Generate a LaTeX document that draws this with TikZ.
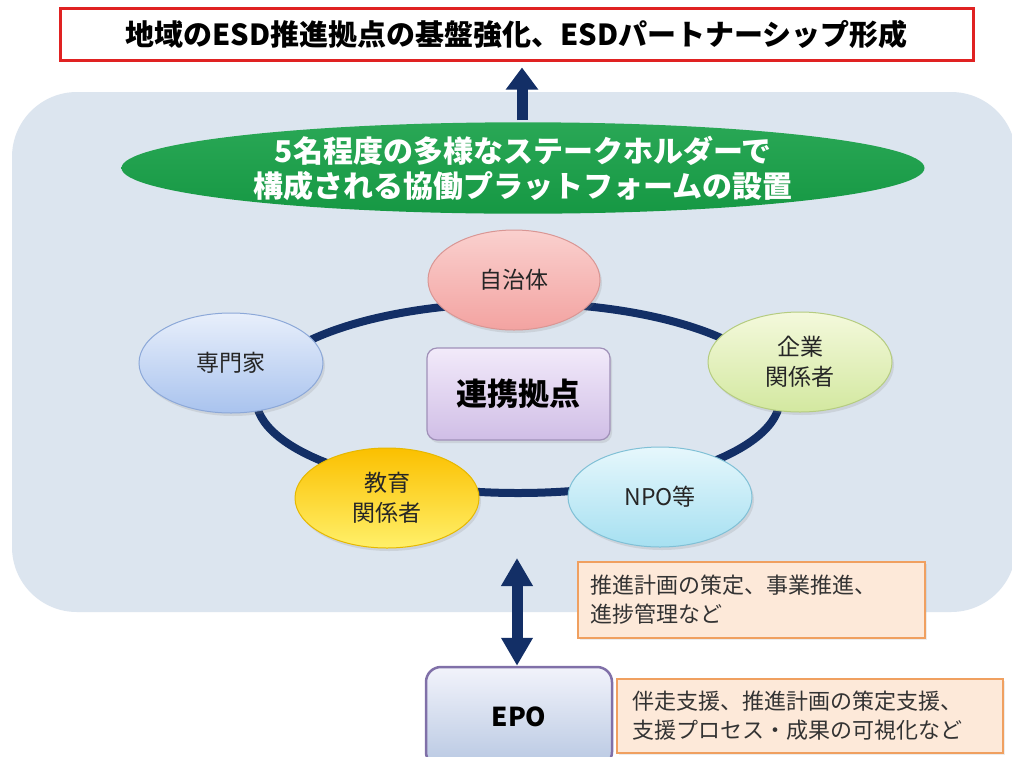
\documentclass[tikz,border=0pt]{standalone}
\usepackage{fontspec}
\setmainfont{Noto Sans CJK JP}
\usetikzlibrary{arrows.meta,shapes.geometric,shadows}
\definecolor{bgc}{HTML}{DCE5EF}
\definecolor{navy}{HTML}{132F66}
\definecolor{titlered}{HTML}{E02222}
\definecolor{greenc}{HTML}{17A047}
\definecolor{orfill}{HTML}{FDE9D9}
\definecolor{ordraw}{HTML}{F0A060}
\definecolor{pinkT}{HTML}{FAD0CE}
\definecolor{pinkB}{HTML}{F3A3A1}
\definecolor{pinkD}{HTML}{D99694}
\definecolor{blueT}{HTML}{E8EFFB}
\definecolor{blueB}{HTML}{A9C3EE}
\definecolor{blueD}{HTML}{8CA8D8}
\definecolor{grnT}{HTML}{F4F9DC}
\definecolor{grnB}{HTML}{D3E8A0}
\definecolor{grnD}{HTML}{B5CC80}
\definecolor{goldT}{HTML}{FBC000}
\definecolor{goldB}{HTML}{FFF06A}
\definecolor{goldD}{HTML}{E6B800}
\definecolor{cyanT}{HTML}{E6F7FC}
\definecolor{cyanB}{HTML}{A6E0F1}
\definecolor{cyanD}{HTML}{80C0D6}
\definecolor{lavT}{HTML}{F2EAFA}
\definecolor{lavB}{HTML}{D0BEE6}
\definecolor{lavD}{HTML}{A090B8}
\definecolor{epoT}{HTML}{F2F3FB}
\definecolor{epoB}{HTML}{B8C8E2}
\definecolor{epoD}{HTML}{8070A8}
\tikzset{
  member/.style={ellipse, draw=#1, line width=1pt, minimum width=184pt, minimum height=100pt, inner sep=0pt, align=center,
     font=\fontsize{23}{30}\selectfont, text=black!85,
     drop shadow={opacity=0.18, shadow xshift=2pt, shadow yshift=-3pt}},
  notebox/.style={rectangle, draw=ordraw, line width=2.5pt, fill=orfill, align=left, font=\fontsize{22}{29}\selectfont, text=black!80,
     drop shadow={opacity=0.15, shadow xshift=2pt, shadow yshift=-2pt}},
  bigarrow/.style={navy, line width=11pt},
}
\begin{document}
\begin{tikzpicture}[x=1pt,y=-1pt]
\useasboundingbox (0,0) rectangle (1012,756);
\fill[white] (0,0) rectangle (1012,756);
% background panel
\fill[bgc, rounded corners=65pt] (12,92) rectangle (1016,612);
% title
\node[draw=titlered, line width=3pt, fill=white, minimum width=913pt, minimum height=52pt, inner sep=0pt,
      font=\fontsize{29}{34}\selectfont\bfseries] (title) at (516.5,34) {地域のESD推進拠点の基盤強化、ESDパートナーシップ形成};
% green ellipse
\node[ellipse, top color=greenc!92!white, bottom color=greenc!95!black, minimum width=803pt, minimum height=80pt, inner sep=0pt,
      text=white, align=center, font=\fontsize{30}{35}\selectfont\bfseries] (platform) at (523,168)
      {5名程度の多様なステークホルダーで\\構成される協働プラットフォームの設置};
\coordinate (upstart) at (522,120);
\draw[bigarrow, -{Triangle[width=31pt,length=22pt]}, shorten >=6pt] (upstart) -- (upstart |- title.south);
% ring
\draw[navy, line width=8pt] (518,398) ellipse [x radius=262, y radius=95];
% members
\node[member=pinkD, top color=pinkT, bottom color=pinkB, minimum width=172pt] (jichi) at (514,280) {自治体};
\node[member=blueD, top color=blueT, bottom color=blueB] (senmon) at (231,363) {専門家};
\node[member=grnD, top color=grnT, bottom color=grnB] (kigyo) at (800,362) {企業\\関係者};
\node[member=goldD, top color=goldT, bottom color=goldB] (kyoiku) at (387,498) {教育\\関係者};
\node[member=cyanD, top color=cyanT, bottom color=cyanB] (npo) at (660,497) {NPO等};
% center box
\node[draw=lavD, line width=1.2pt, rounded corners=10pt, top color=lavT, bottom color=lavB, minimum width=183pt, minimum height=92pt,
      inner sep=0pt, font=\fontsize{31}{36}\selectfont\bfseries,
      drop shadow={opacity=0.18, shadow xshift=2pt, shadow yshift=-3pt}] (hub) at (518.5,394) {連携拠点};
% EPO box
\node[draw=epoD, line width=2.5pt, rounded corners=15pt, top color=epoT, bottom color=epoB, minimum width=186pt, minimum height=100pt,
      inner sep=0pt, font=\fontsize{26}{30}\selectfont\bfseries] (epo) at (519,717) {EPO};
% note boxes
\node[notebox, minimum width=347pt, minimum height=76pt, text width=323pt, inner xsep=12pt, inner ysep=0pt] (note1) at (751.5,600)
      {推進計画の策定、事業推進、\\進捗管理など};
\node[notebox, minimum width=386pt, minimum height=74pt, text width=356pt, inner xsep=15pt, inner ysep=0pt] (note2) at (810,716)
      {伴走支援、推進計画の策定支援、\\支援プロセス・成果の可視化など};
% double arrow
\coordinate (dtop) at (517,558);
\draw[bigarrow, {Triangle[width=30pt,length=28pt]}-{Triangle[width=30pt,length=28pt]}] (dtop) -- (dtop |- epo.north);
\end{tikzpicture}
\end{document}
